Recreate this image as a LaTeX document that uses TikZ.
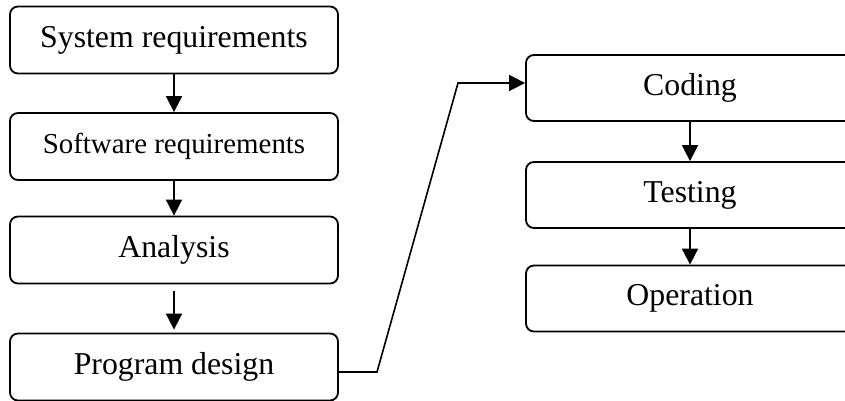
\documentclass[tikz,border=0pt]{standalone}
\usepackage{fontspec}
\setmainfont{Liberation Serif}
\usetikzlibrary{arrows.meta,calc}
\tikzset{
  stagebox/.style={draw, line width=0.9pt, rounded corners=4pt, inner sep=0pt,
    font=\fontsize{15.9}{18}\selectfont},
  leftbox/.style={stagebox, minimum width=164pt, minimum height=33.5pt},
  rightbox/.style={stagebox, minimum width=164pt, minimum height=33pt},
  flow/.style={line width=0.9pt, -{Triangle[length=8pt,width=8pt]}},
  link/.style={line width=0.8pt, -{Triangle[length=8pt,width=8pt]}}
}
\begin{document}
\begin{tikzpicture}[x=0.5pt,y=-0.5pt]
\path[use as bounding box, clip] (0,0) rectangle (845,401);
\node[leftbox] (sys) at (174,40) {System requirements};
\node[leftbox, font=\fontsize{14.45}{17}\selectfont] (soft) at (174,146.5) {Software requirements};
\node[leftbox] (ana) at (174,250) {Analysis};
\node[leftbox] (prog) at (174,367) {Program design};
\node[rightbox] (cod) at (690,88) {Coding};
\node[rightbox] (tst) at (690,195) {Testing};
\node[rightbox] (ope) at (690,298.5) {Operation};
\draw[flow] (sys) -- (soft);
\draw[flow] (soft) -- (ana);
\draw[flow] ($(ana.south)+(0,7)$) -- ($(prog.north)+(0,-3)$);
\draw[flow] (cod) -- (tst);
\draw[flow] (tst) -- (ope);
\coordinate (b1) at (377,372);
\coordinate (b2) at (458,83);
\draw[link] (prog.east |- b1) -- (b1) -- (b2) -- (b2 -| cod.west);
\end{tikzpicture}
\end{document}
